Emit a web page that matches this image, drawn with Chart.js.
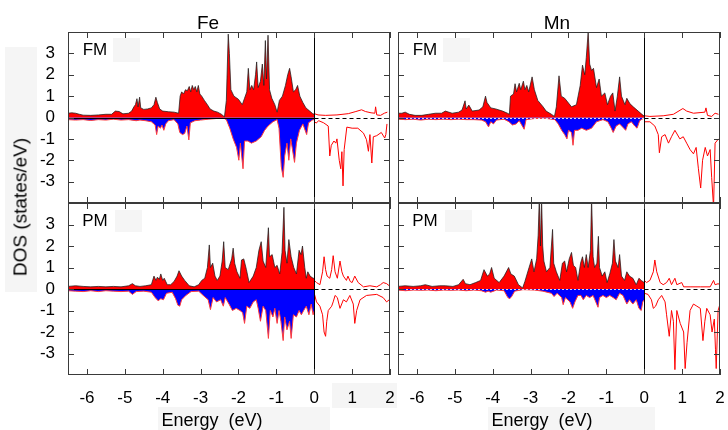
<!DOCTYPE html>
<html>
<head>
<meta charset="utf-8">
<script src="https://cdn.jsdelivr.net/npm/chart.js@4.4.1/dist/chart.umd.min.js"></script>
<style>
  body { margin: 0; background: #fff; }
  #wrap { position: relative; width: 728px; height: 430px; overflow: hidden; background: #fff;
          font-family: 'Liberation Sans', Arial, Helvetica, sans-serif; color: #000; }
  canvas { position: absolute; }
  .lbl { position: absolute; transform: translate(-50%, -50%); white-space: pre; line-height: 1; }
  .patch { position: absolute; background: #f5f5f5; }
</style>
</head>
<body>
<div id="wrap">
  <div class="patch" style="left:5px;top:47px;width:32px;height:245px"></div>
  <div class="patch" style="left:113px;top:38px;width:27px;height:24px"></div>
  <div class="patch" style="left:443px;top:38px;width:27px;height:24px"></div>
  <div class="patch" style="left:115px;top:210px;width:27px;height:22px"></div>
  <div class="patch" style="left:445px;top:210px;width:27px;height:22px"></div>
  <div class="patch" style="left:332px;top:383px;width:65px;height:25px"></div>
  <div class="patch" style="left:158px;top:407px;width:172px;height:23px"></div>
  <div class="patch" style="left:488px;top:407px;width:167px;height:23px"></div>

  <canvas id="feFm"></canvas>
  <canvas id="fePm"></canvas>
  <canvas id="mnFm"></canvas>
  <canvas id="mnPm"></canvas>

  <div class="lbl" style="left:208px;top:22px;font-size:19px">Fe</div>
  <div class="lbl" style="left:557px;top:22px;font-size:19px">Mn</div>
  <div class="lbl" style="left:95px;top:49px;font-size:17px">FM</div>
  <div class="lbl" style="left:425px;top:49px;font-size:17px">FM</div>
  <div class="lbl" style="left:95px;top:220px;font-size:17px">PM</div>
  <div class="lbl" style="left:425px;top:220px;font-size:17px">PM</div>
  <div class="lbl" style="left:212px;top:420px;font-size:18px">Energy  (eV)</div>
  <div class="lbl" style="left:542px;top:420px;font-size:18px">Energy  (eV)</div>
  <div class="lbl" style="left:20px;top:207px;font-size:19px;transform:translate(-50%,-50%) rotate(-90deg)">DOS (states/eV)</div>
</div>
<script>
// ---- axis ticks ----
const xTicks = [-6, -5, -4, -3, -2, -1, 0, 1, 2];
const yTicks = [-3, -2, -1, 0, 1, 2, 3];

// ---- Fe, FM : [energy, DOS] ----
const feFmUpOcc = [[-6.5,0.2],[-6.4,0.22],[-6.3,0.2],[-6.2,0.15],[-6.1,0.11],[-5.9,0.1],[-5.7,0.12],[-5.5,0.15],[-5.35,0.15],[-5.25,0.3],[-5.15,0.28],[-5.05,0.17],[-4.9,0.2],[-4.82,0.3],[-4.76,0.5],[-4.72,0.6],[-4.68,0.88],[-4.65,0.5],[-4.61,0.95],[-4.58,0.45],[-4.5,0.38],[-4.4,0.4],[-4.3,0.45],[-4.23,0.6],[-4.18,0.95],[-4.14,0.7],[-4.08,0.4],[-4.0,0.3],[-3.85,0.27],[-3.7,0.25],[-3.58,0.2],[-3.54,1.0],[-3.5,1.2],[-3.45,1.1],[-3.4,1.3],[-3.35,1.25],[-3.3,1.45],[-3.26,1.2],[-3.22,1.5],[-3.18,1.3],[-3.14,1.45],[-3.1,1.2],[-3.06,1.5],[-3.02,1.1],[-2.97,1.0],[-2.9,0.8],[-2.82,0.6],[-2.75,0.4],[-2.65,0.3],[-2.55,0.25],[-2.45,0.15],[-2.37,0.03],[-2.32,0.8],[-2.27,3.9],[-2.24,3.0],[-2.2,1.3],[-2.12,1.0],[-2.0,0.85],[-1.9,0.6],[-1.84,0.9],[-1.78,1.2],[-1.74,2.3],[-1.7,1.3],[-1.65,1.5],[-1.6,1.3],[-1.55,2.0],[-1.52,2.6],[-1.48,1.4],[-1.42,1.7],[-1.37,2.5],[-1.33,1.5],[-1.29,3.6],[-1.26,1.8],[-1.22,3.85],[-1.18,1.3],[-1.12,0.9],[-1.04,0.6],[-0.98,0.25],[-0.92,0.8],[-0.84,1.0],[-0.76,1.5],[-0.7,2.0],[-0.65,2.3],[-0.61,1.9],[-0.55,1.2],[-0.49,1.3],[-0.44,1.5],[-0.38,1.0],[-0.3,0.7],[-0.22,0.45],[-0.12,0.3],[-0.04,0.18],[0,0.15]];
const feFmDnOcc = [[-6.5,-0.1],[-6.3,-0.12],[-6.1,-0.1],[-5.9,-0.14],[-5.7,-0.1],[-5.5,-0.12],[-5.3,-0.08],[-5.1,-0.12],[-4.9,-0.1],[-4.7,-0.15],[-4.6,-0.12],[-4.45,-0.15],[-4.3,-0.2],[-4.2,-0.35],[-4.16,-0.8],[-4.12,-0.4],[-4.06,-0.5],[-4.02,-0.35],[-3.97,-0.6],[-3.92,-0.3],[-3.85,-0.15],[-3.7,-0.1],[-3.6,-0.3],[-3.55,-0.7],[-3.48,-0.8],[-3.42,-0.75],[-3.36,-0.4],[-3.31,-1.05],[-3.27,-0.25],[-3.15,-0.15],[-3.0,-0.12],[-2.8,-0.08],[-2.6,-0.05],[-2.4,-0.02],[-2.32,-0.1],[-2.23,-0.5],[-2.14,-1.0],[-2.05,-1.4],[-1.99,-2.0],[-1.95,-1.2],[-1.88,-2.4],[-1.84,-1.1],[-1.75,-1.1],[-1.66,-1.2],[-1.53,-1.1],[-1.4,-0.9],[-1.31,-0.6],[-1.22,-0.4],[-1.09,-0.2],[-0.98,-0.1],[-0.93,-0.5],[-0.87,-2.3],[-0.82,-2.8],[-0.78,-1.8],[-0.72,-1.2],[-0.67,-2.0],[-0.62,-1.0],[-0.52,-2.1],[-0.47,-1.2],[-0.39,-0.6],[-0.3,-0.3],[-0.2,-0.8],[-0.15,-0.25],[-0.05,-0.12],[0,-0.1]];
const feFmUpEmp = [[0,0.18],[0.1,0.12],[0.3,0.1],[0.6,0.12],[0.9,0.18],[1.1,0.28],[1.25,0.36],[1.35,0.28],[1.5,0.22],[1.6,0.2],[1.62,0.5],[1.65,0.12],[1.75,0.1],[1.85,0.2],[1.93,0.25]];
const feFmDnEmp = [[0,-0.19],[0.05,-0.26],[0.12,-0.15],[0.25,-0.25],[0.37,-0.4],[0.41,-1.8],[0.45,-1.3],[0.52,-1.1],[0.57,-1.2],[0.6,-1.0],[0.66,-2.0],[0.7,-2.4],[0.73,-1.6],[0.76,-3.2],[0.79,-1.5],[0.86,-0.45],[1.0,-0.5],[1.15,-0.5],[1.3,-0.73],[1.38,-1.04],[1.43,-1.58],[1.47,-0.8],[1.52,-2.13],[1.56,-0.9],[1.65,-0.85],[1.77,-0.7],[1.86,-0.96],[1.89,-0.8],[1.92,-0.3]];

// ---- Fe, PM ----
const fePmUpOcc = [[-6.5,0.12],[-6.3,0.15],[-6.1,0.12],[-5.9,0.1],[-5.7,0.12],[-5.5,0.1],[-5.3,0.12],[-5.1,0.1],[-4.9,0.15],[-4.8,0.25],[-4.72,0.15],[-4.6,0.12],[-4.45,0.15],[-4.3,0.2],[-4.23,0.6],[-4.18,0.4],[-4.14,0.55],[-4.09,0.45],[-4.05,0.7],[-4.0,0.4],[-3.96,0.5],[-3.88,0.2],[-3.79,0.2],[-3.7,0.35],[-3.62,0.6],[-3.57,0.85],[-3.5,0.6],[-3.42,0.4],[-3.3,0.15],[-3.17,0.1],[-3.05,0.2],[-2.97,0.4],[-2.89,0.5],[-2.82,1.0],[-2.77,2.05],[-2.74,1.0],[-2.68,1.2],[-2.62,0.6],[-2.56,0.4],[-2.49,0.6],[-2.43,1.3],[-2.39,2.2],[-2.35,1.0],[-2.27,0.9],[-2.18,1.4],[-2.14,1.9],[-2.1,1.2],[-2.04,0.8],[-1.96,0.5],[-1.92,1.35],[-1.86,1.4],[-1.79,0.9],[-1.72,0.3],[-1.61,0.6],[-1.53,1.0],[-1.46,1.8],[-1.4,2.2],[-1.35,1.3],[-1.28,1.0],[-1.21,2.85],[-1.18,1.5],[-1.11,1.6],[-1.04,1.0],[-0.98,1.1],[-0.91,0.7],[-0.85,1.7],[-0.8,3.8],[-0.77,1.8],[-0.72,1.2],[-0.67,2.3],[-0.61,1.5],[-0.54,1.0],[-0.47,0.7],[-0.4,1.8],[-0.35,1.6],[-0.31,2.0],[-0.25,1.0],[-0.21,0.5],[-0.17,0.8],[-0.11,0.6],[-0.03,0.5],[0,0.5]];
const fePmDnOcc = [[-6.5,-0.08],[-6.3,-0.1],[-6.1,-0.12],[-5.9,-0.08],[-5.7,-0.12],[-5.5,-0.08],[-5.3,-0.1],[-5.1,-0.12],[-4.9,-0.1],[-4.8,-0.25],[-4.7,-0.12],[-4.5,-0.1],[-4.3,-0.15],[-4.2,-0.4],[-4.12,-0.55],[-4.05,-0.45],[-3.98,-0.5],[-3.9,-0.2],[-3.75,-0.15],[-3.66,-0.45],[-3.6,-0.75],[-3.55,-0.8],[-3.5,-0.5],[-3.39,-0.3],[-3.25,-0.12],[-3.05,-0.1],[-2.93,-0.3],[-2.8,-0.5],[-2.74,-0.96],[-2.67,-0.4],[-2.58,-0.6],[-2.47,-0.5],[-2.4,-0.8],[-2.35,-0.4],[-2.25,-0.7],[-2.16,-1.0],[-2.06,-0.9],[-1.96,-1.0],[-1.89,-1.1],[-1.84,-1.6],[-1.78,-0.8],[-1.7,-0.9],[-1.61,-0.6],[-1.53,-0.5],[-1.48,-0.9],[-1.42,-1.5],[-1.35,-0.8],[-1.28,-1.0],[-1.21,-2.3],[-1.16,-1.0],[-1.09,-1.3],[-1.04,-0.9],[-0.98,-1.6],[-0.93,-1.0],[-0.88,-1.5],[-0.82,-2.4],[-0.78,-1.3],[-0.72,-1.9],[-0.65,-1.5],[-0.61,-2.3],[-0.55,-1.2],[-0.47,-1.3],[-0.4,-1.0],[-0.34,-1.2],[-0.28,-1.0],[-0.21,-0.8],[-0.14,-1.2],[-0.08,-0.7],[-0.03,-1.2],[0,-1.0]];
const fePmUpEmp = [[0,0.4],[0.06,0.3],[0.15,0.2],[0.22,0.8],[0.26,1.5],[0.3,0.9],[0.34,0.6],[0.41,0.5],[0.46,0.9],[0.5,1.55],[0.55,0.8],[0.61,0.5],[0.68,1.3],[0.73,0.8],[0.77,0.6],[0.85,0.4],[0.89,0.6],[0.95,0.35],[1.0,0.3],[1.07,0.6],[1.16,0.3],[1.3,0.1],[1.47,0.15],[1.65,0.1],[1.75,0.2],[1.82,0.3],[1.91,0.25],[1.98,0.15]];
const fePmDnEmp = [[0,-0.2],[0.06,-0.6],[0.15,-0.8],[0.22,-1.2],[0.26,-2.0],[0.3,-2.2],[0.33,-1.5],[0.37,-1.0],[0.46,-0.8],[0.5,-0.6],[0.55,-0.3],[0.61,-0.4],[0.68,-0.9],[0.77,-0.5],[0.85,-0.6],[0.94,-0.3],[1.03,-0.7],[1.07,-1.6],[1.12,-1.0],[1.21,-0.5],[1.38,-0.3],[1.65,-0.25],[1.82,-0.4],[1.91,-0.6],[1.98,-0.5]];

// ---- Mn, FM ----
const mnFmUpOcc = [[-6.5,0.2],[-6.4,0.2],[-6.31,0.25],[-6.2,0.15],[-6.05,0.1],[-5.87,0.1],[-5.69,0.15],[-5.51,0.2],[-5.35,0.2],[-5.25,0.3],[-5.07,0.2],[-4.9,0.25],[-4.81,0.35],[-4.73,0.78],[-4.7,0.4],[-4.63,0.58],[-4.54,0.3],[-4.36,0.35],[-4.26,0.5],[-4.19,1.0],[-4.15,0.7],[-4.05,0.45],[-3.92,0.4],[-3.74,0.3],[-3.61,0.2],[-3.56,0.15],[-3.53,1.0],[-3.45,1.1],[-3.41,1.58],[-3.37,1.2],[-3.3,1.6],[-3.26,1.3],[-3.19,1.7],[-3.15,1.3],[-3.1,1.5],[-3.05,1.2],[-2.96,1.9],[-2.9,1.3],[-2.81,0.8],[-2.67,0.5],[-2.59,0.3],[-2.45,0.15],[-2.37,0.05],[-2.32,0.5],[-2.25,1.95],[-2.19,1.0],[-2.1,0.9],[-1.92,0.5],[-1.79,0.6],[-1.69,1.5],[-1.63,2.45],[-1.57,2.0],[-1.53,2.8],[-1.48,4.0],[-1.44,2.5],[-1.39,2.2],[-1.34,2.3],[-1.26,1.4],[-1.19,1.8],[-1.13,1.0],[-1.04,1.15],[-0.97,0.6],[-0.89,1.0],[-0.83,1.15],[-0.77,0.3],[-0.71,1.0],[-0.65,1.9],[-0.6,1.0],[-0.51,0.6],[-0.46,0.9],[-0.38,0.65],[-0.29,0.5],[-0.16,0.3],[-0.03,0.1],[0,0.08]];
const mnFmDnOcc = [[-6.5,-0.08],[-6.3,-0.1],[-6.1,-0.08],[-5.9,-0.12],[-5.7,-0.08],[-5.5,-0.1],[-5.3,-0.08],[-5.1,-0.1],[-4.9,-0.08],[-4.7,-0.1],[-4.5,-0.1],[-4.3,-0.12],[-4.19,-0.2],[-4.11,-0.44],[-4.05,-0.2],[-3.98,-0.3],[-3.9,-0.12],[-3.7,-0.08],[-3.57,-0.2],[-3.48,-0.35],[-3.38,-0.3],[-3.3,-0.15],[-3.17,-0.55],[-3.12,-0.1],[-2.9,-0.05],[-2.6,-0.04],[-2.36,-0.1],[-2.27,-0.3],[-2.18,-0.6],[-2.1,-0.8],[-2.04,-1.0],[-2.0,-0.6],[-1.92,-0.7],[-1.88,-1.3],[-1.84,-0.6],[-1.75,-0.6],[-1.65,-0.5],[-1.53,-0.6],[-1.39,-0.5],[-1.26,-0.2],[-1.09,-0.1],[-0.96,-0.2],[-0.87,-0.5],[-0.82,-0.7],[-0.74,-0.4],[-0.65,-0.3],[-0.54,-0.5],[-0.49,-0.6],[-0.43,-0.3],[-0.34,-0.2],[-0.25,-0.4],[-0.19,-0.5],[-0.12,-0.15],[-0.03,-0.05],[0,-0.05]];
const mnFmUpEmp = [[0,0.08],[0.15,0.05],[0.5,0.08],[0.77,0.15],[1.02,0.42],[1.12,0.3],[1.3,0.2],[1.6,0.25],[1.63,0.45],[1.67,0.1],[1.78,0.05],[1.87,0.2],[1.96,0.15]];
const mnFmDnEmp = [[0,-0.2],[0.15,-0.2],[0.28,-0.4],[0.37,-0.8],[0.4,-1.65],[0.46,-0.9],[0.55,-0.8],[0.64,-1.2],[0.72,-0.9],[0.81,-0.6],[0.94,-1.0],[1.03,-0.9],[1.12,-1.2],[1.21,-1.5],[1.3,-1.7],[1.37,-1.4],[1.43,-2.4],[1.49,-3.3],[1.54,-2.0],[1.61,-1.4],[1.67,-1.8],[1.74,-1.5],[1.78,-2.8],[1.83,-4.2],[1.87,-1.2],[1.96,-1.0]];

// ---- Mn, PM ----
const mnPmUpOcc = [[-6.5,0.12],[-6.31,0.15],[-6.1,0.12],[-5.9,0.15],[-5.78,0.2],[-5.6,0.12],[-5.4,0.15],[-5.25,0.15],[-5.05,0.12],[-4.9,0.2],[-4.78,0.45],[-4.72,0.25],[-4.6,0.2],[-4.45,0.3],[-4.32,0.4],[-4.23,0.9],[-4.14,0.6],[-4.08,0.7],[-4.03,1.0],[-3.96,0.5],[-3.83,0.3],[-3.7,0.6],[-3.58,1.0],[-3.52,0.7],[-3.43,0.6],[-3.32,0.2],[-3.21,0.05],[-3.15,0.35],[-3.04,1.0],[-2.97,1.4],[-2.91,0.8],[-2.84,1.4],[-2.8,2.5],[-2.77,4.2],[-2.74,2.0],[-2.71,4.2],[-2.68,2.0],[-2.65,1.3],[-2.58,0.8],[-2.49,1.0],[-2.42,2.77],[-2.39,1.2],[-2.32,0.8],[-2.23,0.4],[-2.16,1.2],[-2.1,1.3],[-2.05,0.8],[-1.98,1.4],[-1.92,1.7],[-1.87,1.1],[-1.81,1.0],[-1.75,0.4],[-1.68,1.2],[-1.63,1.5],[-1.58,1.0],[-1.53,1.6],[-1.48,1.0],[-1.42,1.8],[-1.39,4.2],[-1.35,1.5],[-1.31,1.0],[-1.25,1.2],[-1.21,2.45],[-1.18,1.0],[-1.11,0.6],[-1.04,0.8],[-0.98,0.3],[-0.91,0.7],[-0.84,1.2],[-0.8,2.3],[-0.76,1.3],[-0.69,1.0],[-0.65,1.6],[-0.6,0.6],[-0.52,0.4],[-0.46,0.8],[-0.39,0.6],[-0.3,0.5],[-0.21,0.2],[-0.14,0.5],[-0.08,0.4],[0,0.3]];
const mnPmDnOcc = [[-6.5,-0.05],[-6.3,-0.08],[-6.1,-0.05],[-5.9,-0.06],[-5.7,-0.05],[-5.5,-0.08],[-5.3,-0.05],[-5.1,-0.06],[-4.9,-0.05],[-4.7,-0.08],[-4.5,-0.05],[-4.3,-0.08],[-4.19,-0.15],[-4.12,-0.1],[-4.05,-0.15],[-3.9,-0.05],[-3.7,-0.08],[-3.6,-0.4],[-3.55,-0.45],[-3.5,-0.35],[-3.42,-0.1],[-3.2,-0.03],[-2.9,-0.05],[-2.68,-0.1],[-2.45,-0.2],[-2.38,-0.35],[-2.3,-0.2],[-2.18,-0.4],[-2.14,-0.73],[-2.08,-0.4],[-1.96,-0.6],[-1.89,-0.9],[-1.83,-0.6],[-1.75,-0.3],[-1.67,-0.3],[-1.61,-0.5],[-1.53,-0.3],[-1.44,-0.4],[-1.35,-0.3],[-1.22,-0.85],[-1.18,-0.4],[-1.09,-0.3],[-1.0,-0.4],[-0.91,-0.3],[-0.82,-0.4],[-0.74,-0.5],[-0.65,-0.2],[-0.56,-0.3],[-0.46,-0.7],[-0.39,-0.5],[-0.3,-0.7],[-0.21,-0.5],[-0.14,-0.9],[-0.08,-1.0],[-0.04,-0.6],[0,-0.5]];
const mnPmUpEmp = [[0,0.4],[0.06,0.3],[0.15,0.4],[0.24,0.8],[0.28,1.35],[0.33,0.8],[0.42,0.3],[0.5,0.2],[0.59,0.3],[0.66,0.5],[0.72,0.2],[0.81,0.5],[0.86,0.2],[0.99,0.3],[1.04,0.1],[1.21,0.1],[1.48,0.1],[1.74,0.1],[1.83,0.4],[1.87,0.2],[1.96,0.25],[2.0,0.15]];
const mnPmDnEmp = [[0,-0.2],[0.1,-0.25],[0.19,-0.5],[0.24,-0.9],[0.3,-0.8],[0.37,-0.5],[0.46,-0.3],[0.55,-0.6],[0.59,-1.2],[0.66,-2.2],[0.72,-1.0],[0.77,-1.5],[0.81,-3.75],[0.86,-1.0],[0.95,-1.6],[1.04,-2.0],[1.08,-3.7],[1.13,-2.5],[1.21,-1.0],[1.3,-0.7],[1.39,-0.8],[1.48,-0.9],[1.55,-2.4],[1.6,-1.5],[1.65,-0.9],[1.74,-1.2],[1.79,-2.0],[1.85,-1.4],[1.88,-2.8],[1.9,-3.7],[1.95,-1.0],[2.0,-0.7]];

const tickFont = { family: "'Liberation Sans', Arial, sans-serif", size: 17 };
const pts = arr => arr.map(p => ({ x: p[0], y: p[1] }));

function line(ctx, x1, y1, x2, y2) {
    ctx.beginPath();
    ctx.moveTo(x1, y1);
    ctx.lineTo(x2, y2);
    ctx.stroke();
}

// frame, inward ticks, Fermi level and zero lines (gnuplot look)
const framePlugin = {
    id: 'frame',
    afterDatasetsDraw(chart, args, opts) {
        const { ctx, chartArea: a, scales: { x, y } } = chart;
        const x0 = Math.round(x.getPixelForValue(0)) + 0.5;
        const y0 = Math.round(y.getPixelForValue(0)) + 0.5;
        ctx.save();
        ctx.lineWidth = 1;

        // zero line below E_F
        ctx.strokeStyle = opts.occColor;
        ctx.setLineDash(opts.occDash);
        line(ctx, a.left, y0, x0, y0);

        // dashed zero line above E_F
        ctx.strokeStyle = '#000';
        ctx.setLineDash([4, 3]);
        line(ctx, x0, y0, a.right, y0);
        ctx.setLineDash([]);

        // Fermi level
        line(ctx, x0, a.top, x0, a.bottom);

        // frame and ticks
        ctx.strokeStyle = '#3a3a3a';
        ctx.strokeRect(a.left + 0.5, a.top + 0.5, a.width - 1, a.height - 1);
        xTicks.forEach(v => {
            const px = Math.round(x.getPixelForValue(v)) + 0.5;
            line(ctx, px, a.bottom, px, a.bottom - 6);
            line(ctx, px, a.top, px, a.top + 6);
        });
        yTicks.forEach(v => {
            const py = Math.round(y.getPixelForValue(v)) + 0.5;
            line(ctx, a.left, py, a.left + 6, py);
            line(ctx, a.right, py, a.right - 6, py);
        });
        ctx.restore();
    }
};

function makePanel(p) {
    const cv = document.getElementById(p.id);
    const padL = p.yLabels ? 45 : 2, padT = 3, padR = 8, padB = p.xLabels ? 40 : 3;
    cv.width = padL + p.w + padR;
    cv.height = padT + p.h + padB;
    cv.style.left = (p.left - padL) + 'px';
    cv.style.top = (p.top - padT) + 'px';

    new Chart(cv, {
        type: 'line',
        data: {
            datasets: [
                { data: pts(p.upOcc), fill: 'origin', backgroundColor: '#ff0000', borderColor: 'rgba(30,30,30,0.75)', borderWidth: 1 },
                { data: pts(p.dnOcc), fill: 'origin', backgroundColor: '#0000ff', borderColor: '#ff3a3a', borderWidth: 1 },
                { data: pts(p.upEmp), fill: false, borderColor: '#ff0000', borderWidth: 1 },
                { data: pts(p.dnEmp), fill: false, borderColor: '#ff0000', borderWidth: 1 }
            ]
        },
        options: {
            responsive: false,
            animation: false,
            devicePixelRatio: 1,
            layout: { padding: { left: 0, top: padT, right: padR, bottom: 0 } },
            elements: { point: { radius: 0 }, line: { tension: 0 } },
            plugins: {
                legend: { display: false },
                tooltip: { enabled: false },
                frame: { occColor: p.occColor, occDash: p.occDash }
            },
            scales: {
                x: {
                    type: 'linear', min: -6.5, max: 2,
                    grid: { display: false, drawTicks: false },
                    border: { display: false },
                    afterBuildTicks: s => { s.ticks = xTicks.map(v => ({ value: v })); },
                    afterFit: s => { s.height = padB; s.paddingLeft = 0; s.paddingRight = 0; },
                    ticks: { display: p.xLabels, padding: 13, color: '#000', font: tickFont,
                             maxRotation: 0, autoSkip: false, callback: v => String(v) }
                },
                y: {
                    type: 'linear', min: -4, max: 4,
                    grid: { display: false, drawTicks: false },
                    border: { display: false },
                    afterBuildTicks: s => { s.ticks = yTicks.map(v => ({ value: v })); },
                    afterFit: s => { s.width = padL; s.paddingTop = 0; s.paddingBottom = 0; },
                    ticks: { display: p.yLabels, padding: 13, color: '#000', font: tickFont,
                             autoSkip: false, callback: v => String(v) }
                }
            }
        },
        plugins: [framePlugin]
    });
}

[
    { id: 'feFm', left: 68, top: 32, w: 322, h: 171, yLabels: true, xLabels: false,
      upOcc: feFmUpOcc, dnOcc: feFmDnOcc, upEmp: feFmUpEmp, dnEmp: feFmDnEmp, occColor: '#000', occDash: [] },
    { id: 'fePm', left: 68, top: 203, w: 322, h: 172, yLabels: true, xLabels: true,
      upOcc: fePmUpOcc, dnOcc: fePmDnOcc, upEmp: fePmUpEmp, dnEmp: fePmDnEmp, occColor: '#000', occDash: [] },
    { id: 'mnFm', left: 398, top: 32, w: 322, h: 171, yLabels: false, xLabels: false,
      upOcc: mnFmUpOcc, dnOcc: mnFmDnOcc, upEmp: mnFmUpEmp, dnEmp: mnFmDnEmp, occColor: '#d8d8f0', occDash: [2, 2] },
    { id: 'mnPm', left: 398, top: 203, w: 322, h: 172, yLabels: false, xLabels: true,
      upOcc: mnPmUpOcc, dnOcc: mnPmDnOcc, upEmp: mnPmUpEmp, dnEmp: mnPmDnEmp, occColor: '#d8d8f0', occDash: [2, 2] }
].forEach(makePanel);
</script>
</body>
</html>
